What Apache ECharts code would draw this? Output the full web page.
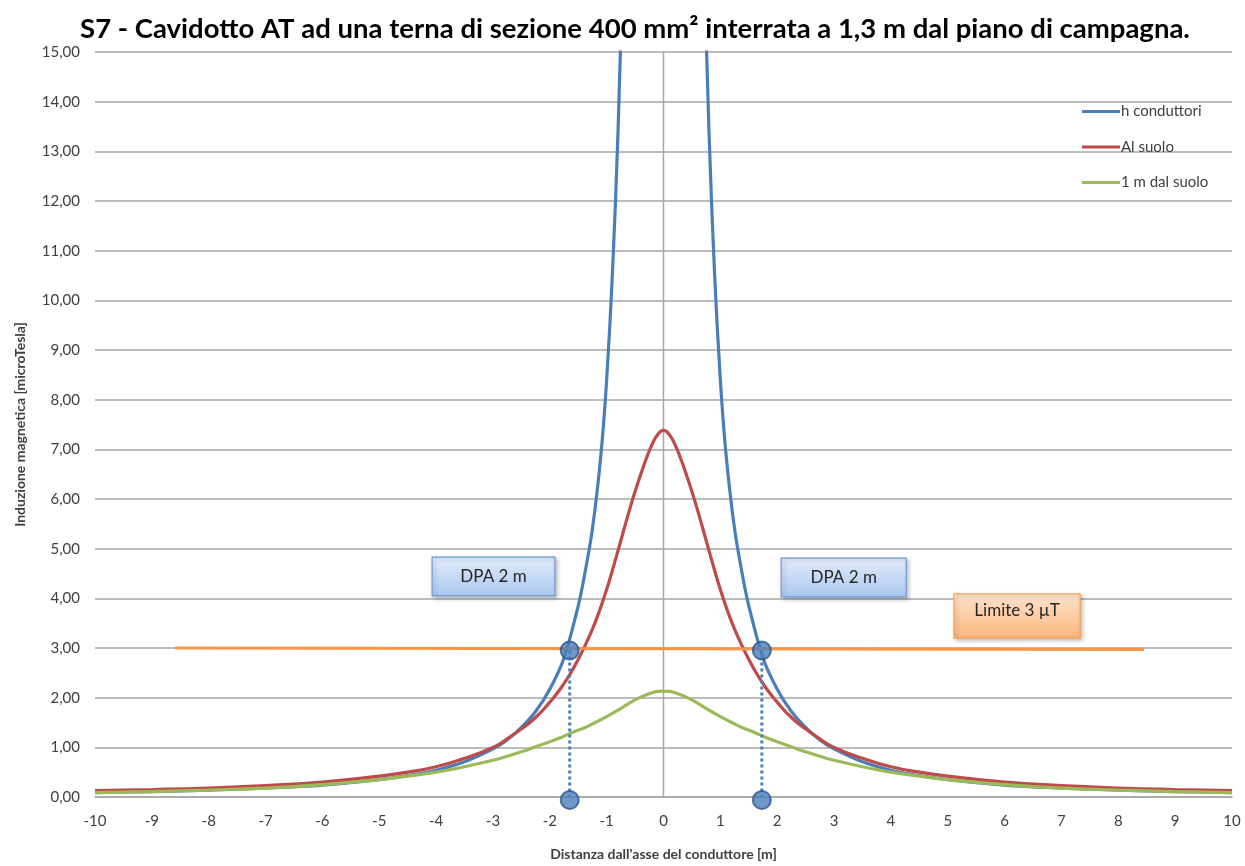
<!DOCTYPE html>
<html>
<head>
<meta charset="utf-8">
<script src="https://cdn.jsdelivr.net/npm/echarts@6/dist/echarts.min.js"></script>
<style>
html,body{margin:0;padding:0;background:#fff;}
#main{width:1245px;height:866px;}
</style>
</head>
<body>
<div id="main"></div>
<script>
// ---- data ----
const titleText = 'S7 - Cavidotto AT ad una terna di sezione 400 mm² interrata a 1,3 m dal piano di campagna.';
const xAxisName = "Distanza dall'asse del conduttore [m]";
const yAxisName = 'Induzione magnetica [microTesla]';
const seriesNames = ['h conduttori', 'Al suolo', '1 m dal suolo'];

// distance (m) for the ground / 1 m curves
const xs = [-10,-9,-8,-7,-6,-5,-4.5,-4,-3.5,-3,-2.75,-2.5,-2.25,-2,-1.8,-1.6,-1.4,-1.2,-1,-0.9,-0.8,-0.7,-0.6,-0.5,-0.4,-0.3,-0.2,-0.1,0,
            0.1,0.2,0.3,0.4,0.5,0.6,0.7,0.8,0.9,1,1.2,1.4,1.6,1.8,2,2.25,2.5,2.75,3,3.5,4,4.5,5,6,7,8,9,10];
const alSuolo = [0.13,0.15,0.18,0.23,0.30,0.42,0.50,0.61,0.78,1.00,1.17,1.37,1.60,1.91,2.20,2.56,3.00,3.52,4.18,4.56,4.96,5.37,5.77,6.15,6.50,6.82,7.10,7.30,7.38,
                 7.30,7.10,6.82,6.50,6.15,5.77,5.37,4.96,4.56,4.18,3.52,3.00,2.56,2.20,1.91,1.60,1.37,1.17,1.00,0.78,0.61,0.50,0.42,0.30,0.23,0.18,0.15,0.13];
const unMetro = [0.09,0.11,0.14,0.18,0.25,0.35,0.42,0.50,0.61,0.74,0.82,0.91,1.01,1.11,1.20,1.30,1.39,1.50,1.62,1.685,1.75,1.82,1.89,1.955,2.01,2.06,2.10,2.125,2.13,
                 2.125,2.10,2.06,2.01,1.955,1.89,1.82,1.75,1.685,1.62,1.50,1.39,1.30,1.20,1.11,1.01,0.91,0.82,0.74,0.61,0.50,0.42,0.35,0.25,0.18,0.14,0.11,0.09];

// conductor-height curve (goes off the top near the axis)
const xsH = [-10,-9,-8,-7,-6,-5,-4.5,-4,-3.5,-3,-2.75,-2.5,-2.25,-2,-1.75,-1.5,-1.4,-1.25,-1.1,-1,-0.9,-0.8,-0.7,0,
             0.7,0.8,0.9,1,1.1,1.25,1.4,1.5,1.75,2,2.25,2.5,2.75,3,3.5,4,4.5,5,6,7,8,9,10];
const hCond = [0.09,0.11,0.14,0.18,0.24,0.35,0.43,0.54,0.71,0.97,1.15,1.40,1.72,2.17,2.80,3.85,4.40,5.40,6.90,8.40,10.5,13.4,17.5,'-',
               17.5,13.4,10.5,8.40,6.90,5.40,4.40,3.85,2.80,2.17,1.72,1.40,1.15,0.97,0.71,0.54,0.43,0.35,0.24,0.18,0.14,0.11,0.09];

// 3 µT limit line
const limitX = [-8.6, 8.45];
const limitY = [3.0, 2.97];

// DPA points (intersection with the limit and projection on the axis)
const dpaX = [-1.65, 1.73];
const dpaYTop = 2.95;
const dpaYBottom = -0.06;

// annotation boxes in data coordinates
const boxes = [
  {text: 'DPA 2 m', x0: -4.07, x1: -1.91, y0: 4.83, y1: 4.05, kind: 'blue'},
  {text: 'DPA 2 m', x0: 2.07, x1: 4.27, y0: 4.81, y1: 4.03, kind: 'blue'},
  {text: 'Limite 3 µT', x0: 5.11, x1: 7.33, y0: 4.09, y1: 3.20, kind: 'orange'}
];

const blue = '#4a7ebb', red = '#be4b48', green = '#9bbb59', orange = '#f79646';
const font = 'Lato, "Open Sans", sans-serif';

function zip(a, b) { return a.map((v, i) => [v, b[i]]); }

const chart = echarts.init(document.getElementById('main'), null, {renderer: 'canvas'});

const option = {
  backgroundColor: '#fff',
  animation: false,
  title: {
    text: titleText, left: 630, top: 10, textAlign: 'center',
    textStyle: {fontFamily: font, fontWeight: 'bold', fontSize: 27.5, color: '#000'}
  },
  legend: {
    data: seriesNames, orient: 'vertical', left: 1077, top: 99,
    icon: 'rect', itemWidth: 38, itemHeight: 3, itemGap: 20.5,
    textStyle: {fontFamily: font, fontSize: 15, color: '#404040', padding: [0,0,0,-4]}
  },
  grid: {left: 95, right: 13, top: 52, bottom: 63, containLabel: false},
  xAxis: {
    type: 'value', min: -10, max: 10, interval: 1,
    name: xAxisName, nameLocation: 'middle', nameGap: 50,
    nameTextStyle: {fontFamily: font, fontWeight: 'bold', fontSize: 14, color: '#404040'},
    axisLine: {show: true, onZero: false, lineStyle: {color: '#a6a6a6', width: 1.5}},
    axisTick: {show: false},
    axisLabel: {fontFamily: font, fontSize: 15, color: '#404040', margin: 17},
    splitLine: {show: false}
  },
  yAxis: {
    type: 'value', min: 0, max: 15, interval: 1,
    name: yAxisName, nameLocation: 'middle', nameGap: 68,
    nameTextStyle: {fontFamily: font, fontWeight: 'bold', fontSize: 14, color: '#404040'},
    axisLine: {show: false}, axisTick: {show: false},
    axisLabel: {fontFamily: font, fontSize: 15, color: '#404040', margin: 15,
      formatter: v => v.toFixed(2).replace('.', ',')},
    splitLine: {show: true, lineStyle: {color: '#a6a6a6', width: 1.5}}
  },
  series: [
    {name: 'axis0', type: 'line', data: [[0, 0], [0, 15]], symbol: 'none', silent: true,
     lineStyle: {color: '#a6a6a6', width: 1.5}, z: 1},
    {name: seriesNames[0], type: 'line', data: zip(xsH, hCond), symbol: 'none', smooth: 0.35,
     connectNulls: false, lineStyle: {color: blue, width: 3.2}, itemStyle: {color: blue}, z: 3},
    {name: seriesNames[1], type: 'line', data: zip(xs, alSuolo), symbol: 'none', smooth: 0.5,
     lineStyle: {color: red, width: 3.2}, itemStyle: {color: red}, z: 4},
    {name: seriesNames[2], type: 'line', data: zip(xs, unMetro), symbol: 'none', smooth: 0.5,
     lineStyle: {color: green, width: 3.2}, itemStyle: {color: green}, z: 4},
    {name: 'limite', type: 'line', data: zip(limitX, limitY), symbol: 'none',
     lineStyle: {color: orange, width: 3}, z: 5},
    {name: 'dpaL', type: 'line', data: [[dpaX[0], dpaYTop], [dpaX[0], 0]], symbol: 'none',
     lineStyle: {color: blue, width: 3, type: [3, 3]}, z: 6},
    {name: 'dpaR', type: 'line', data: [[dpaX[1], dpaYTop], [dpaX[1], 0]], symbol: 'none',
     lineStyle: {color: blue, width: 3, type: [3, 3]}, z: 6},
    {name: 'dpaPts', type: 'scatter', clip: false, symbolSize: 18,
     data: [[dpaX[0], dpaYTop], [dpaX[1], dpaYTop], [dpaX[0], dpaYBottom], [dpaX[1], dpaYBottom]],
     itemStyle: {color: '#4a7ebb', borderColor: '#2a568c', borderWidth: 2}, z: 7}
  ]
};
chart.setOption(option);

// annotation boxes positioned through the axes
const gfx = boxes.map(b => {
  const p0 = chart.convertToPixel({gridIndex: 0}, [b.x0, b.y0]);
  const p1 = chart.convertToPixel({gridIndex: 0}, [b.x1, b.y1]);
  const w = p1[0] - p0[0], h = p1[1] - p0[1];
  const isBlue = b.kind === 'blue';
  return {
    type: 'group', x: p0[0], y: p0[1], z: 100,
    children: [
      {type: 'rect', shape: {x: 0, y: 0, width: w, height: h},
       style: {
         fill: new echarts.graphic.LinearGradient(0, 0, 0, 1, isBlue
           ? [{offset: 0, color: '#e3edfb'}, {offset: 1, color: '#aac7f0'}]
           : [{offset: 0, color: '#fde3cc'}, {offset: 1, color: '#fbb57c'}]),
         stroke: isBlue ? '#6d9ad3' : '#f5a25a', lineWidth: 1.2,
         shadowBlur: 4, shadowOffsetX: 2, shadowOffsetY: 2, shadowColor: 'rgba(0,0,0,0.25)'
       }},
      {type: 'text',
       style: {text: b.text, x: w / 2, y: isBlue ? h / 2 : h / 2 - 5, align: 'center', verticalAlign: 'middle',
               fontFamily: font, fontSize: 17, fill: '#262626'}}
    ]
  };
});
chart.setOption({graphic: gfx});
</script>
</body>
</html>
